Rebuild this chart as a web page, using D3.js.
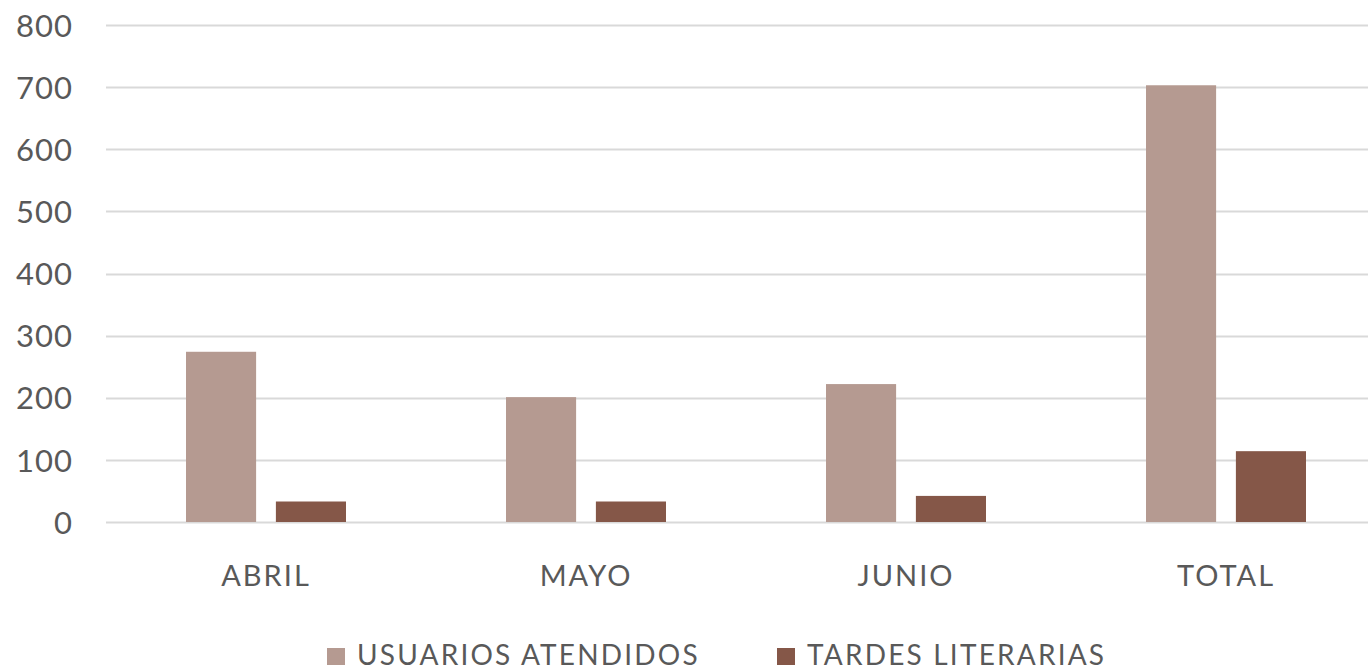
<!DOCTYPE html>
<html>
<head>
<meta charset="utf-8">
<script src="https://cdn.jsdelivr.net/npm/d3@7"></script>
<style>
  html, body { margin: 0; padding: 0; background: #fff; overflow: hidden; }
  svg { display: block; }
  text { font-family: Lato, "Open Sans", sans-serif; fill: #595959; }
</style>
</head>
<body>
<svg id="chart" width="1368" height="671"></svg>
<script>
const categories = ["ABRIL", "MAYO", "JUNIO", "TOTAL"];
const seriesNames = ["USUARIOS ATENDIDOS", "TARDES LITERARIAS"];
const usuarios = [274, 201, 222, 703];
const tardes = [33, 33, 42, 114];
const yTicks = [0, 100, 200, 300, 400, 500, 600, 700, 800];
const colors = ["#b59a91", "#855748"];

const svg = d3.select("#chart");
const W = 1368, H = 671;

const x0 = d3.scaleBand().domain(categories).range([106, 1386]).paddingInner(0).paddingOuter(0);
const x1 = d3.scaleBand().domain(seriesNames).range([80, 240]).paddingInner(0.22).paddingOuter(0);
const y = d3.scaleLinear().domain([0, 800]).range([522, 25]);

// gridlines
const grid = svg.append("g").attr("class", "grid");
grid.selectAll("line").data(yTicks).join("line")
  .attr("x1", 106).attr("x2", W)
  .attr("y1", d => Math.round(y(d)) + 0.5).attr("y2", d => Math.round(y(d)) + 0.5)
  .attr("stroke", "#d9d9d9").attr("stroke-width", 2);

// y axis labels
const yAxis = d3.axisLeft(y).tickValues(yTicks).tickSize(0).tickPadding(0);
const yg = svg.append("g").attr("transform", "translate(73,0)").call(yAxis);
yg.select(".domain").remove();
yg.selectAll("text").style("font-size", "31px").attr("fill", "#595959")
  .style("font-family", "Lato, sans-serif").style("letter-spacing", "1px").attr("dy", "0.36em");

// bars
const data = categories.map((c, i) => ({ cat: c, values: [usuarios[i], tardes[i]] }));
const groups = svg.append("g").selectAll("g").data(data).join("g")
  .attr("transform", d => `translate(${x0(d.cat)},0)`);
groups.selectAll("rect").data(d => d.values.map((v, j) => ({ key: seriesNames[j], v, j })))
  .join("rect")
  .attr("x", d => x1(d.key))
  .attr("width", x1.bandwidth())
  .attr("y", d => y(d.v))
  .attr("height", d => y(0) - y(d.v))
  .attr("fill", d => colors[d.j]);

// x axis labels
const xAxis = d3.axisBottom(x0).tickSize(0).tickPadding(0);
const xg = svg.append("g").attr("transform", "translate(0,565)").call(xAxis);
xg.select(".domain").remove();
xg.selectAll("text").style("font-size", "29px").attr("fill", "#595959")
  .style("font-family", "Lato, sans-serif").attr("dy", "0.72em").style("letter-spacing", "2px");

// legend
const legendX = [327, 777];
const leg = svg.append("g");
seriesNames.forEach((s, i) => {
  leg.append("rect").attr("x", legendX[i]).attr("y", 648).attr("width", 18).attr("height", 17).attr("fill", colors[i]);
  leg.append("text").attr("x", legendX[i] + 30).attr("y", 665)
    .style("font-size", "28px").style("letter-spacing", "2.2px").text(s);
});
</script>
</body>
</html>
